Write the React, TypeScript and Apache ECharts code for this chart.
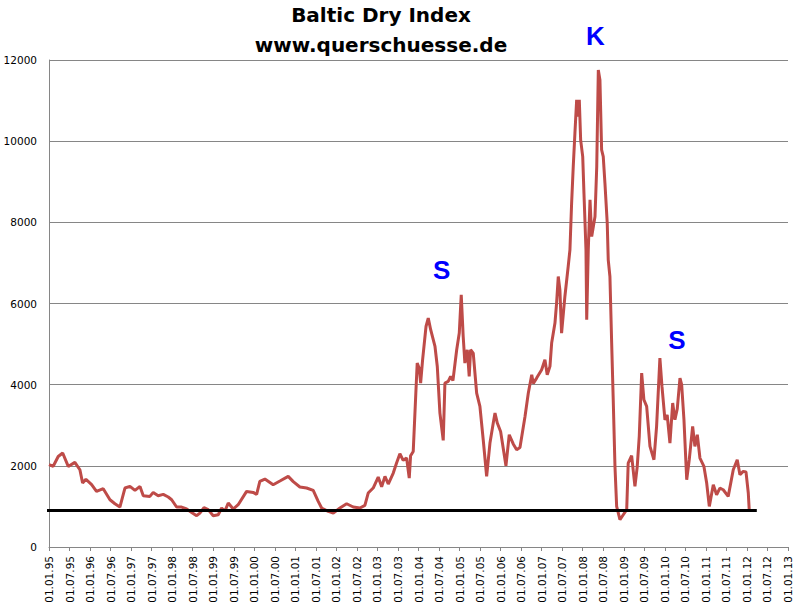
import React, { useEffect, useRef } from "react";
import * as echarts from "echarts";

// Baltic Dry Index (Datum, Indexpunkte)
const bdi: [string, number][] = [
  ["1995-01-01", 2030], ["1995-02-08", 1990], ["1995-03-22", 2230], ["1995-05-01", 2315],
  ["1995-06-20", 1985], ["1995-08-18", 2085], ["1995-10-02", 1904], ["1995-10-26", 1576],
  ["1995-11-25", 1670], ["1996-01-15", 1535], ["1996-02-28", 1370], ["1996-04-27", 1436],
  ["1996-06-26", 1165], ["1996-08-09", 1066], ["1996-09-23", 985], ["1996-11-07", 1453],
  ["1996-12-21", 1493], ["1997-02-05", 1394], ["1997-03-19", 1493], ["1997-04-18", 1264],
  ["1997-06-16", 1247], ["1997-07-15", 1345], ["1997-08-29", 1264], ["1997-10-13", 1296],
  ["1997-11-27", 1231], ["1997-12-27", 1165], ["1998-02-10", 985], ["1998-03-24", 985],
  ["1998-05-08", 936], ["1998-06-22", 852], ["1998-08-06", 771], ["1998-09-04", 837],
  ["1998-10-10", 968], ["1998-11-17", 920], ["1999-01-01", 771], ["1999-02-15", 796],
  ["1999-03-15", 960], ["1999-04-14", 887], ["1999-05-13", 1083], ["1999-06-27", 936],
  ["1999-08-10", 1042], ["1999-10-24", 1370], ["1999-12-22", 1345], ["2000-01-22", 1296],
  ["2000-02-20", 1617], ["2000-04-04", 1675], ["2000-06-17", 1535], ["2000-08-16", 1626],
  ["2000-10-29", 1740], ["2000-12-13", 1610], ["2001-02-11", 1478], ["2001-04-10", 1453],
  ["2001-06-08", 1394], ["2001-07-22", 1124], ["2001-08-22", 960], ["2001-10-20", 877],
  ["2001-12-04", 837], ["2002-02-02", 960], ["2002-04-01", 1066], ["2002-05-29", 985],
  ["2002-07-28", 960], ["2002-09-11", 1025], ["2002-10-10", 1330], ["2002-11-24", 1453],
  ["2003-01-08", 1724], ["2003-02-08", 1486], ["2003-03-07", 1740], ["2003-04-06", 1552],
  ["2003-05-20", 1822], ["2003-06-19", 2069], ["2003-07-18", 2298], ["2003-08-17", 2135],
  ["2003-09-17", 2192], ["2003-10-10", 1699], ["2003-10-22", 2250], ["2003-11-15", 2355],
  ["2003-12-09", 3874], ["2003-12-20", 4532], ["2004-01-08", 4400], ["2004-01-20", 4040],
  ["2004-02-07", 4613], ["2004-03-07", 5433], ["2004-03-27", 5640], ["2004-04-18", 5354],
  ["2004-05-26", 4941], ["2004-06-16", 4448], ["2004-07-09", 3300], ["2004-08-08", 2626],
  ["2004-08-23", 4040], ["2004-09-22", 4080], ["2004-10-13", 4203], ["2004-11-03", 4100],
  ["2004-12-06", 4860], ["2004-12-29", 5271], ["2005-01-16", 6214], ["2005-02-03", 5187],
  ["2005-02-18", 4532], ["2005-03-09", 4860], ["2005-03-26", 4203], ["2005-04-08", 4860],
  ["2005-05-01", 4778], ["2005-06-01", 3793], ["2005-06-30", 3463], ["2005-07-29", 2643],
  ["2005-08-29", 1740], ["2005-09-28", 2560], ["2005-10-27", 3054], ["2005-11-12", 3300],
  ["2005-12-02", 3054], ["2006-01-01", 2847], ["2006-02-18", 2002], ["2006-03-17", 2766],
  ["2006-04-22", 2540], ["2006-05-22", 2397], ["2006-06-21", 2450], ["2006-08-05", 3217],
  ["2006-09-04", 3793], ["2006-10-04", 4244], ["2006-10-18", 4030], ["2006-11-17", 4162],
  ["2007-01-01", 4367], ["2007-01-30", 4613], ["2007-02-20", 4244], ["2007-03-14", 4450],
  ["2007-03-29", 5025], ["2007-04-28", 5517], ["2007-05-12", 6010], ["2007-05-27", 6665],
  ["2007-06-11", 6337], ["2007-06-26", 5271], ["2007-07-25", 6173], ["2007-08-24", 6911],
  ["2007-09-09", 7322], ["2007-09-24", 8472], ["2007-10-08", 9374], ["2007-10-23", 10197],
  ["2007-11-08", 11017], ["2007-11-22", 10606], ["2007-12-01", 11017], ["2007-12-13", 10032],
  ["2008-01-01", 9620], ["2008-01-12", 8719], ["2008-01-30", 7322], ["2008-02-06", 5598],
  ["2008-02-20", 7322], ["2008-03-05", 8554], ["2008-03-20", 7650], ["2008-04-19", 8143],
  ["2008-05-04", 9374], ["2008-05-18", 11756], ["2008-06-02", 11510], ["2008-06-17", 9785],
  ["2008-07-01", 9620], ["2008-07-16", 8965], ["2008-08-06", 7980], ["2008-08-15", 7076],
  ["2008-08-30", 6665], ["2008-09-15", 5025], ["2008-09-29", 3628], ["2008-10-14", 1985],
  ["2008-10-29", 1000], ["2008-11-28", 672], ["2008-12-27", 795], ["2009-01-27", 919],
  ["2009-02-10", 2069], ["2009-03-10", 2250], ["2009-04-09", 1493], ["2009-04-29", 1970],
  ["2009-05-17", 2724], ["2009-06-08", 4285], ["2009-06-28", 3628], ["2009-07-22", 3465],
  ["2009-08-21", 2478], ["2009-09-26", 2150], ["2009-10-19", 2971], ["2009-11-18", 4655],
  ["2009-12-06", 3956], ["2010-01-02", 3135], ["2010-01-22", 3258], ["2010-02-16", 2561],
  ["2010-03-10", 3547], ["2010-03-30", 3135], ["2010-04-20", 3400], ["2010-05-14", 4162],
  ["2010-05-29", 4000], ["2010-06-19", 3135], ["2010-07-13", 1658], ["2010-08-05", 2150],
  ["2010-09-05", 2971], ["2010-09-25", 2478], ["2010-10-16", 2766], ["2010-11-09", 2192],
  ["2010-12-14", 1985], ["2011-01-08", 1576], ["2011-02-01", 1000], ["2011-03-06", 1535],
  ["2011-04-05", 1288], ["2011-05-04", 1450], ["2011-06-03", 1411], ["2011-07-17", 1247],
  ["2011-09-01", 1904], ["2011-10-06", 2150], ["2011-10-30", 1781], ["2011-11-29", 1863],
  ["2011-12-23", 1850], ["2012-01-13", 1330], ["2012-01-22", 880],
];

// schwarze Unterstuetzungslinie
const floorLevel = 900;
const floorRange: [string, string] = ["1994-11-15", "2012-03-28"];

// Markierungen S - K - S
const marks: { text: string; date: string; value: number }[] = [
  { text: "S", date: "2004-07-24", value: 6820 },
  { text: "K", date: "2008-04-22", value: 12580 },
  { text: "S", date: "2010-04-18", value: 5100 },
];

const titleLines = ["Baltic Dry Index", "www.querschuesse.de"];

const yMax = 12000;
const yStep = 2000;
const xEnd = "2013-01-01";

const monthsSince1995 = (d: string) => {
  const [y, m, day] = d.split("-").map(Number);
  return (y - 1995) * 12 + (m - 1) + (day - 1) / 30.5;
};

const tickLabel = (v: number) => {
  const year = 1995 + Math.floor(v / 12);
  const month = v % 12 === 0 ? "01" : "07";
  return `01.${month}.${String(year % 100).padStart(2, "0")}`;
};

const App = () => {
  const chartRef = useRef<HTMLDivElement>(null);

  useEffect(() => {
    const chart = echarts.init(chartRef.current, null, { renderer: "svg" });

    const option = {
      animation: false,
      backgroundColor: "#ffffff",
      grid: { left: 49, right: 11, top: 60, bottom: 62, containLabel: false },
      xAxis: {
        type: "value",
        min: 0,
        max: monthsSince1995(xEnd),
        interval: 6,
        axisLine: { onZero: false, lineStyle: { color: "#868686", width: 1 } },
        axisTick: { show: true, length: 4, lineStyle: { color: "#868686" } },
        splitLine: { show: false },
        axisLabel: {
          rotate: 90,
          margin: 9,
          color: "#000",
          fontSize: 10.5,
          fontFamily: "DejaVu Sans",
          formatter: tickLabel,
        },
      },
      yAxis: {
        type: "value",
        min: 0,
        max: yMax,
        interval: yStep,
        axisLine: { show: true, lineStyle: { color: "#868686", width: 1 } },
        axisTick: { show: false },
        splitLine: { lineStyle: { color: "#868686", width: 1 } },
        axisLabel: {
          margin: 12,
          color: "#000",
          fontSize: 10.5,
          fontFamily: "DejaVu Sans",
          formatter: (v: number) => String(v),
        },
      },
      series: [
        {
          type: "line",
          data: bdi.map(([d, v]) => [monthsSince1995(d), v]),
          symbol: "none",
          lineStyle: { color: "#be4b48", width: 3 },
          z: 2,
        },
        {
          type: "line",
          data: floorRange.map((d) => [monthsSince1995(d), floorLevel]),
          symbol: "none",
          clip: false,
          lineStyle: { color: "#000", width: 3 },
          z: 3,
        },
      ],
    };

    chart.setOption(option);

    // Titel und Buchstaben S - K - S
    const titleTexts = titleLines.map((t, i) => ({
      type: "text",
      x: 381,
      y: 15 + i * 30,
      style: {
        text: t,
        fill: "#000",
        font: "bold 20px 'DejaVu Sans'",
        textAlign: "center",
        textVerticalAlign: "middle",
      },
    }));
    const markTexts = marks.map((m) => {
      const [px, py] = chart.convertToPixel({ gridIndex: 0 }, [monthsSince1995(m.date), m.value]);
      return {
        type: "text",
        x: px,
        y: py,
        z: 10,
        style: {
          text: m.text,
          fill: "#0000ff",
          font: "bold 26px 'Liberation Sans'",
          textAlign: "center",
          textVerticalAlign: "middle",
        },
      };
    });
    chart.setOption({ graphic: [...titleTexts, ...markTexts] });

    return () => {
      chart.dispose();
    };
  }, []);

  return (
    <div
      ref={chartRef}
      style={{ position: "fixed", left: 0, top: 0, width: "799px", height: "609px" }}
    ></div>
  );
};

export default App;
